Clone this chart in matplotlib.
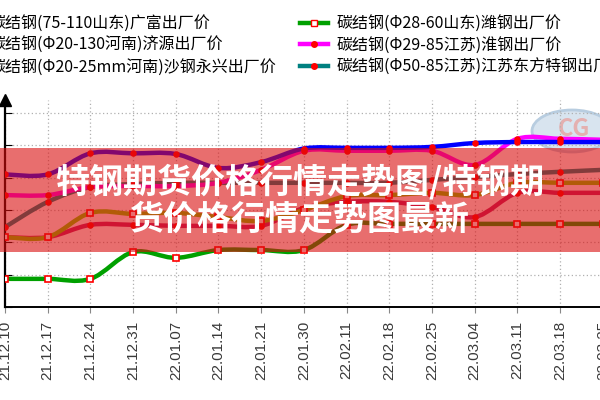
import numpy as np
import matplotlib.pyplot as plt
from matplotlib.path import Path
from matplotlib.patches import PathPatch, Rectangle, Ellipse
from matplotlib.lines import Line2D

plt.rcParams['font.family'] = ['Noto Sans CJK SC', 'DejaVu Sans']

# weekly quotes (yuan/t)
dates = ['21.12.10', '21.12.17', '21.12.24', '21.12.31', '22.01.07', '22.01.14',
         '22.01.21', '22.01.30', '22.02.11', '22.02.18', '22.02.25', '22.03.04',
         '22.03.11', '22.03.18', '22.03.25']
guangfu = [5210, 5210, 5275, 5275, 5273, 5230, 5248, 5290, 5292, 5292, 5295, 5307, 5310, 5310, 5310]
jiyuan = [5016, 5016, 5091, 5088, 5091, 5078, 5066, 5100, 5143, 5146, 5153, 5146, 5184, 5184, 5184]
yongxing = [5016, 5016, 5054, 5054, 5051, 5051, 5051, 5106, 5125, 5125, 5109, 5078, 5153, 5153, 5153]
weigang = [4887, 4887, 4887, 4970, 4952, 4976, 4976, 4976, 5054, 5057, 5057, 5057, 5057, 5057, 5057]
huaigang = [5146, 5146, 5171, 5174, 5174, 5184, 5224, 5283, 5283, 5283, 5283, 5239, 5320, 5320, 5317]
dongfang = [5047, 5125, 5171, 5180, 5184, 5184, 5184, 5184, 5184, 5184, 5193, 5202, 5211, 5218, 5224]

labels = ['碳结钢(75-110山东)广富出厂价', '碳结钢(Φ20-130河南)济源出厂价',
          '碳结钢(Φ20-25mm河南)沙钢永兴出厂价', '碳结钢(Φ28-60山东)潍钢出厂价',
          '碳结钢(Φ29-85江苏)淮钢出厂价', '碳结钢(Φ50-85江苏)江苏东方特钢出厂价']


def smooth_path(xs, ys, t=1.0):
    # catmull-rom style bezier through the points, like excel "smoothed line"
    p = np.column_stack([xs, ys]).astype(float)
    verts = [p[0]]
    codes = [Path.MOVETO]
    n = len(p)
    for i in range(n - 1):
        p0 = p[i - 1] if i > 0 else p[i]
        p3 = p[i + 2] if i + 2 < n else p[i + 1]
        c1 = p[i] + (p[i + 1] - p0) * t / 6
        c2 = p[i + 1] - (p3 - p[i]) * t / 6
        verts += [c1, c2, p[i + 1]]
        codes += [Path.CURVE4] * 3
    return Path(verts, codes)


fig = plt.figure(figsize=(6, 4), dpi=100)
fig.patch.set_facecolor('white')
ax = fig.add_axes([5 / 600, 93 / 400, 615 / 600, 207 / 400])
ax.set_facecolor('none')

x = np.arange(len(dates))
series = [
    (yongxing, '#c0206a', 'o', 'red', 'red'),
    (jiyuan, '#78d000', 's', 'white', 'red'),
    (dongfang, '#008080', 'o', 'red', 'red'),
    (weigang, '#00a000', 's', 'white', 'red'),
    (huaigang, '#ff00ff', 'o', 'red', 'red'),
    (guangfu, '#0000ff', 'o', 'red', 'red'),
]
for vals, col, mk, fc, ec in series:
    ax.add_patch(PathPatch(smooth_path(x, vals), fill=False, edgecolor=col, lw=3.2,
                           capstyle='round', joinstyle='round', zorder=2))
    ax.plot(x, vals, linestyle='none', marker=mk, markersize=4.5 if mk == 's' else 3.5,
            markerfacecolor=fc, markeredgecolor=ec, markeredgewidth=1.2, zorder=3)

ax.set_xlim(0, 615 / 42.7)
ax.set_ylim(4800, 5440)
ax.set_xticks(x)
ax.set_xticklabels(dates, rotation=90, fontsize=11, color='#3a3a3a',
                   family=['Liberation Sans', 'DejaVu Sans'])
ax.set_yticks([4800, 4900, 5000, 5100, 5200, 5300, 5400])
ax.tick_params(axis='y', direction='in', length=5, labelleft=False, color='black')
ax.tick_params(axis='x', direction='out', length=4, color='#888888', pad=6)
ax.grid(True, linestyle=(0, (1, 2)), color='#b0b0b0', lw=0.9)
ax.set_axisbelow(True)
for s in ['top', 'right']:
    ax.spines[s].set_visible(False)
ax.spines['left'].set_linewidth(1.6)
ax.spines['bottom'].set_linewidth(1.4)
ax.plot([0], [1], marker='^', markersize=9, color='black', transform=ax.transAxes,
        clip_on=False)

# faint watermark logo behind the plot
fig.add_artist(Ellipse((572 / 600, 1 - 131 / 400), 80 / 600, 42 / 400,
                       transform=fig.transFigure, facecolor='#d8e4ef', edgecolor='#b8cde0',
                       lw=2, zorder=-1))
fig.text(574 / 600, 1 - 129 / 400, 'CG', fontsize=17, color='#e4b0b0', ha='center',
         va='center', zorder=-1, weight='bold')

leg_kw = dict(frameon=False, fontsize=11.5, handlelength=1.75, handletextpad=0.55,
              labelspacing=0.3, borderpad=0, borderaxespad=0, loc='upper left',
              bbox_transform=fig.transFigure)
handles = []
for vals, col, mk, fc, ec in [series[5], series[1], series[0], series[3], series[4], series[2]]:
    handles.append(Line2D([], [], color=col, lw=3.2, marker=mk, markersize=4,
                          markerfacecolor=fc, markeredgecolor=ec))
fig.legend(handles[:3], labels[:3], bbox_to_anchor=(-47 / 600, 0.962), **leg_kw)
fig.legend(handles[3:], labels[3:], bbox_to_anchor=(300 / 600, 0.962), **leg_kw)

# red banner overlay with title text
fig.add_artist(Rectangle((0, 1 - 252 / 400), 1, 104 / 400, transform=fig.transFigure,
                         facecolor=(218 / 255, 13 / 255, 13 / 255), alpha=0.6,
                         edgecolor='none', zorder=5))
fig.text(0.5, 0.5, '特钢期货价格行情走势图/特钢期\n货价格行情走势图最新', ha='center',
         va='center', fontsize=24.5, weight='bold', color='white', linespacing=1.08, zorder=6)

fig.savefig('out.png', dpi=100)
